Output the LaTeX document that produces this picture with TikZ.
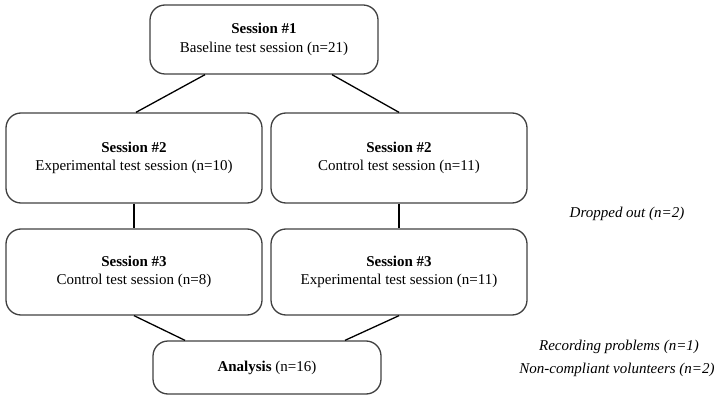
\documentclass[tikz,border=0pt]{standalone}
\usepackage{fontspec}
\setmainfont{Liberation Serif}
\usetikzlibrary{calc}
\begin{document}
\begin{tikzpicture}[x=1pt,y=-1pt,
  box/.style={draw=black!75, line width=1.3pt, rounded corners=15pt, align=center, inner sep=0pt, font=\fontsize{15}{18.5}\selectfont},
  conn/.style={line width=1.3pt, black},
  note/.style={font=\fontsize{15}{18}\selectfont\itshape, align=center, inner sep=0pt}]
\useasboundingbox (0,0) rectangle (719,403);
\node[box, minimum width=228pt, minimum height=69pt] (b1) at (264,39.5) {\textbf{Session \#1}\\Baseline test session (n=21)};
\node[box, minimum width=256pt, minimum height=90pt] (b2l) at (134,158) {\textbf{Session \#2}\\Experimental test session (n=10)};
\node[box, minimum width=256pt, minimum height=90pt] (b2r) at (399,158) {\textbf{Session \#2}\\Control test session (n=11)};
\node[box, minimum width=256pt, minimum height=86pt] (b3l) at (134,272) {\textbf{Session \#3}\\Control test session (n=8)};
\node[box, minimum width=256pt, minimum height=86pt] (b3r) at (399,272) {\textbf{Session \#3}\\Experimental test session (n=11)};
\node[box, minimum width=228pt, minimum height=53pt] (an) at (267,367.5) {\textbf{Analysis} (n=16)};
\draw[conn] ([xshift=-59pt]b1.south) -- ([xshift=2pt]b2l.north);
\draw[conn] ([xshift=68pt]b1.south) -- (b2r.north);
\draw[conn] (b2l.south) -- (b3l.north);
\draw[conn] (b2r.south) -- (b3r.north);
\draw[conn] (b3l.south) -- ([xshift=-82pt]an.north);
\draw[conn] (b3r.south) -- ([xshift=78pt]an.north);
\node[note] (drop) at (627,214) {Dropped out (n=2)};
\node[note] (rec) at (619,347) {Recording problems (n=1)};
\node[note] (nonc) at (617,370) {Non-compliant volunteers (n=2)};
\end{tikzpicture}
\end{document}
